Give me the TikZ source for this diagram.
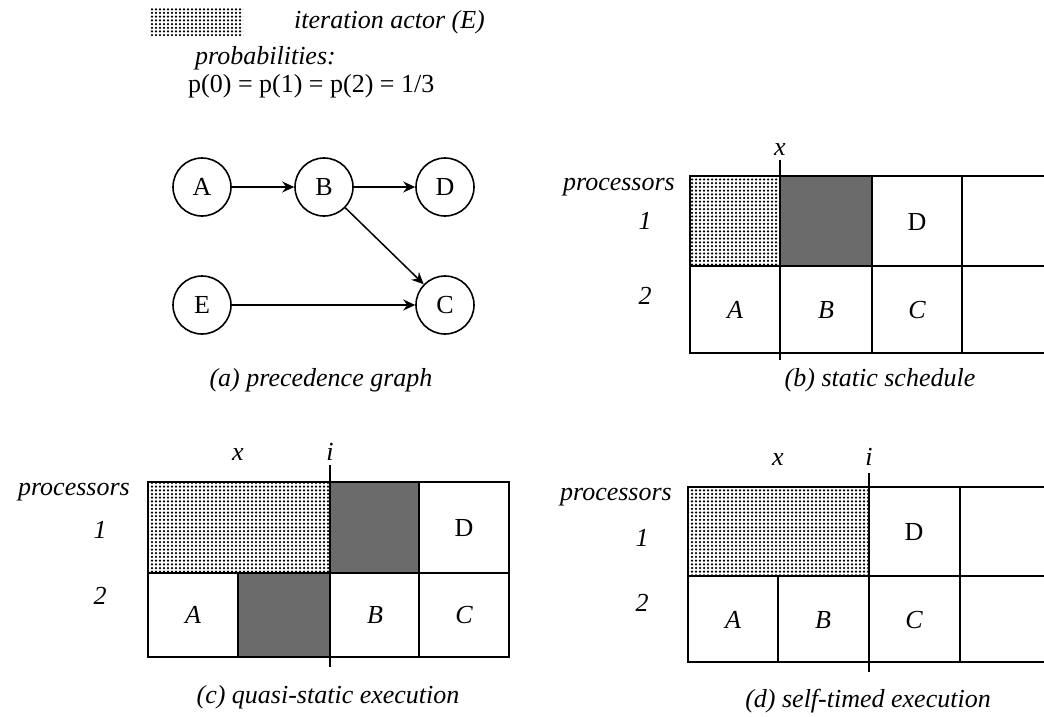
\documentclass[tikz,border=0pt]{standalone}
\usepackage{fontspec}
\setmainfont{Liberation Serif}
\usetikzlibrary{patterns,arrows.meta}
\pgfdeclarepatternformonly{iterdots}{\pgfqpoint{-1.5pt}{-1.5pt}}{\pgfqpoint{1.5pt}{1.5pt}}{\pgfqpoint{4pt}{3.7pt}}{%
  \pgfpathcircle{\pgfqpoint{0pt}{0pt}}{1.25pt}\pgfusepath{fill}}
\begin{document}
\begin{tikzpicture}[x=1pt,y=-1pt,
  lab/.style={font=\fontsize{26}{30}\selectfont\itshape, inner sep=0pt},
  let/.style={font=\fontsize{26}{30}\selectfont, inner sep=0pt},
  ilet/.style={font=\fontsize{26}{30}\selectfont\itshape, inner sep=0pt},
  actor/.style={circle, draw, line width=1.6pt, minimum size=58pt, inner sep=0pt, font=\fontsize{26}{30}\selectfont},
  edge/.style={line width=1.5pt, -{Stealth[length=12pt,width=11pt,inset=4pt]}},
  gridline/.style={line width=2.2pt},
  iter/.style={pattern=iterdots, pattern color=black},
  busy/.style={fill=black!58},
  tickline/.style={line width=1.6pt}
]
\clip (0,0) rectangle (1044,716);
\fill[white] (0,0) rectangle (1044,716);

% legend
\fill[iter] (150,7) rectangle (243,35);
\node[lab, anchor=base west] (leg) at (294,28) {iteration actor (E)};
\node[lab, anchor=base west] (prob) at (195,64) {probabilities:};
\node[font=\fontsize{26}{30}\selectfont, inner sep=0pt, anchor=base west] (pvals) at (188,92) {p(0) = p(1) = p(2) = 1/3};

% (a) precedence graph
\node[actor] (A) at (202,187) {A};
\node[actor] (B) at (324,187) {B};
\node[actor] (D) at (445,187) {D};
\node[actor] (E) at (202,305) {E};
\node[actor] (C) at (445,305) {C};
\draw[edge] (A) -- (B);
\draw[edge] (B) -- (D);
\draw[edge] (B) -- (C);
\draw[edge] (E) -- (C);
\node[lab, anchor=base] (capa) at (321,386) {(a) precedence graph};

% (b) static schedule
\fill[iter] (690,176) rectangle (780,266);
\fill[busy] (780,176) rectangle (872,266);
\draw[gridline] (1060,176) -- (690,176) -- (690,353) -- (1060,353);
\draw[gridline] (690,266) -- (1060,266);
\draw[gridline] (872,176) -- (872,353);
\draw[gridline] (962,176) -- (962,353);
\draw[gridline] (780,266) -- (780,353);
\coordinate (bxt) at (780,160);
\coordinate (bxb) at (780,360);
\draw[tickline] (bxt) -- (bxb);
\node[lab, anchor=base] (bx) at (780,155) {x};
\node[lab, anchor=base east] (bproc) at (675,190) {processors};
\node[lab] (b1) at (645,221) {1};
\node[lab] (b2) at (645,296) {2};
\node[let] (bD) at (917,222) {D};
\node[ilet] (bA) at (735,310) {A};
\node[ilet] (bB) at (826,310) {B};
\node[ilet] (bC) at (917,310) {C};
\node[lab, anchor=base] (capb) at (880,386) {(b) static schedule};

% (c) quasi-static execution
\fill[iter] (148,482) rectangle (330,573);
\fill[busy] (330,482) rectangle (419,573);
\fill[busy] (238,573) rectangle (330,657);
\draw[gridline] (148,482) rectangle (509,657);
\draw[gridline] (148,573) -- (509,573);
\draw[gridline] (238,573) -- (238,657);
\draw[gridline] (419,482) -- (419,657);
\draw[gridline] (330,573) -- (330,657);
\coordinate (cit) at (330,465);
\coordinate (cib) at (330,667);
\draw[tickline] (cit) -- (cib);
\node[lab, anchor=base] (cx) at (238,460) {x};
\node[lab, anchor=base] (ci) at (330,460) {i};
\node[lab, anchor=base east] (cproc) at (130,495) {processors};
\node[lab] (c1) at (100,530) {1};
\node[lab] (c2) at (100,596) {2};
\node[let] (cD) at (464,528) {D};
\node[ilet] (cA) at (193,615) {A};
\node[ilet] (cB) at (375,615) {B};
\node[ilet] (cC) at (464,615) {C};
\node[lab, anchor=base] (capc) at (328,703) {(c) quasi-static execution};

% (d) self-timed execution
\fill[iter] (688,487) rectangle (869,576);
\draw[gridline] (1060,487) -- (688,487) -- (688,662) -- (1060,662);
\draw[gridline] (688,576) -- (1060,576);
\draw[gridline] (778,576) -- (778,662);
\draw[gridline] (960,487) -- (960,662);
\draw[gridline] (869,576) -- (869,662);
\coordinate (dit) at (869,473);
\coordinate (dib) at (869,672);
\draw[tickline] (dit) -- (dib);
\node[lab, anchor=base] (dx) at (778,465) {x};
\node[lab, anchor=base] (di) at (869,465) {i};
\node[lab, anchor=base east] (dproc) at (672,500) {processors};
\node[lab] (d1) at (642,538) {1};
\node[lab] (d2) at (642,603) {2};
\node[let] (dD) at (914,532) {D};
\node[ilet] (dA) at (733,620) {A};
\node[ilet] (dB) at (823,620) {B};
\node[ilet] (dC) at (914,620) {C};
\node[lab, anchor=base] (capd) at (868,707) {(d) self-timed execution};
\end{tikzpicture}
\end{document}
